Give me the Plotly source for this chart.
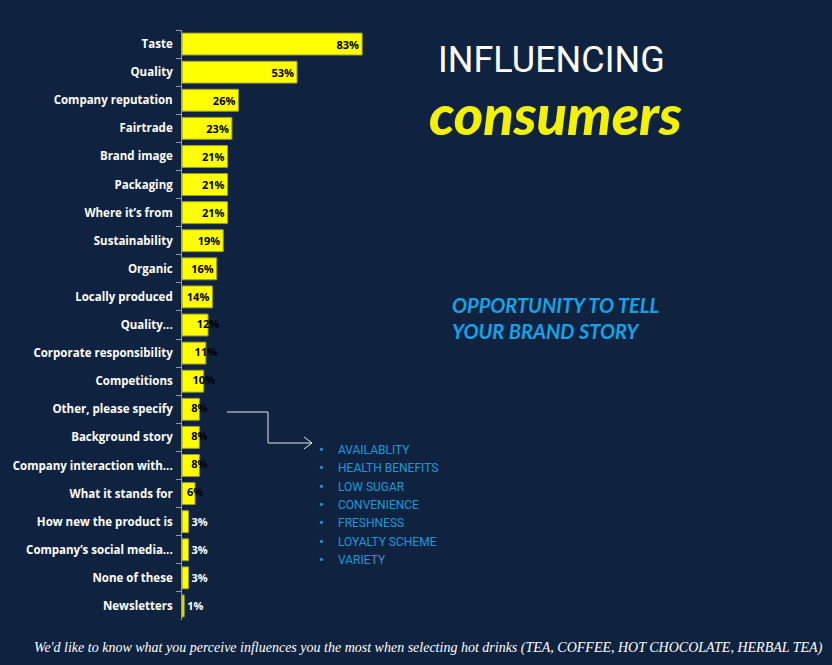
import plotly.graph_objects as go

categories = ["Taste", "Quality", "Company reputation", "Fairtrade", "Brand image",
              "Packaging", "Where it’s from", "Sustainability", "Organic", "Locally produced",
              "Quality...", "Corporate responsibility", "Competitions", "Other, please specify",
              "Background story", "Company interaction with...", "What it stands for",
              "How new the product is", "Company’s social media...", "None of these", "Newsletters"]
values = [83, 53, 26, 23, 21, 21, 21, 19, 16, 14, 12, 11, 10, 8, 8, 8, 6, 3, 3, 3, 1]
value_labels = [f"{v}%" for v in values]

other_items = ["AVAILABLITY", "HEALTH BENEFITS", "LOW SUGAR", "CONVENIENCE",
               "FRESHNESS", "LOYALTY SCHEME", "VARIETY"]

title_line1 = "INFLUENCING"
title_line2 = "consumers"
tagline = "OPPORTUNITY TO TELL<br>YOUR BRAND STORY"
footer = "We'd like to know what you perceive influences you the most when selecting hot drinks (TEA, COFFEE, HOT CHOCOLATE, HERBAL TEA)"

BG = "#0f2341"
YELLOW = "#ffff00"
CYAN = "#12a4e6"
LIST_COLOR = "#1b9ad8"
LABEL_FONT = "Open Sans"
COND = "Roboto"

W, H = 832, 665
L, R, T, B = 182, 0, 30, 45
PW, PH = W - L - R, H - T - B
PX_PER_PCT = 2.17

def px(x):
    return (x - L) / PW

def py(y):
    return (H - B - y) / PH

bar_pos, bar_col, mid_x, mid_y, mid_t = [], [], [], [], []
for c, v, t in zip(categories, values, value_labels):
    if v >= 14:
        bar_pos.append("inside"); bar_col.append("black")
    elif v <= 3:
        bar_pos.append("outside"); bar_col.append("white")
    else:
        bar_pos.append("none"); bar_col.append("black")
        mid_x.append(v); mid_y.append(c); mid_t.append(t)

fig = go.Figure()
fig.add_trace(go.Bar(
    x=values, y=categories, orientation="h",
    marker=dict(color=YELLOW, line=dict(color="#9a9a22", width=1)),
    text=value_labels, textposition=bar_pos, insidetextanchor="end",
    constraintext="none", cliponaxis=False,
    textfont=dict(family=LABEL_FONT, size=11, color=bar_col, weight="bold"),
    hoverinfo="skip",
))
fig.add_trace(go.Scatter(
    x=mid_x, y=mid_y, mode="text", text=mid_t, textposition="middle center",
    textfont=dict(family=LABEL_FONT, size=11, color="black", weight="bold"),
    cliponaxis=False, hoverinfo="skip", showlegend=False,
))

annotations = [
    dict(x=px(551), y=py(60), text=title_line1,
         font=dict(family=COND, size=36, color="white")),
    dict(x=px(555), y=py(114), text=title_line2,
         font=dict(family="Lato", size=56, color="#f2f200", style="italic", weight=900)),
    dict(x=px(450), y=py(318), text=tagline, align="left", xanchor="left",
         font=dict(family="Lato", size=20, color=CYAN, style="italic", weight="bold")),
    dict(x=px(428), y=py(648), text=footer,
         font=dict(family="Liberation Serif", size=14, color="white", style="italic")),
]
for i, item in enumerate(other_items):
    yy = 450 + i * 18.3
    annotations.append(dict(x=px(321), y=py(yy), text="•",
                            font=dict(family=COND, size=15, color=LIST_COLOR)))
    annotations.append(dict(x=px(336), y=py(yy), text=item, xanchor="left",
                            font=dict(family=COND, size=12, color=LIST_COLOR)))
for a in annotations:
    a.setdefault("xanchor", "center")
    a.update(xref="paper", yref="paper", showarrow=False, yanchor="middle")

arrow_path = (f"M {px(227)} {py(412)} L {px(268)} {py(412)} L {px(268)} {py(443)} L {px(312)} {py(443)} "
              f"M {px(304)} {py(437)} L {px(312)} {py(443)} L {px(304)} {py(449)}")

fig.update_layout(
    width=W, height=H,
    margin=dict(l=L, r=R, t=T, b=B),
    paper_bgcolor=BG, plot_bgcolor=BG,
    showlegend=False, bargap=0.22,
    xaxis=dict(range=[0, PW / PX_PER_PCT], visible=False, fixedrange=True),
    yaxis=dict(autorange="reversed", showline=True, linecolor="#9a9a9a", linewidth=1,
               ticks="outside", tickson="boundaries", ticklen=5, tickcolor="#9a9a9a",
               ticklabelstandoff=6, fixedrange=True,
               showgrid=False, zeroline=False,
               tickfont=dict(family=LABEL_FONT, size=11.5, color="white", weight="bold")),
    annotations=annotations,
    shapes=[dict(type="path", path=arrow_path, xref="paper", yref="paper",
                 line=dict(color="#e6e6e6", width=1))],
)

fig.write_html("out.html", config={"displayModeBar": False},
               post_script="document.body.style.margin='0';")
